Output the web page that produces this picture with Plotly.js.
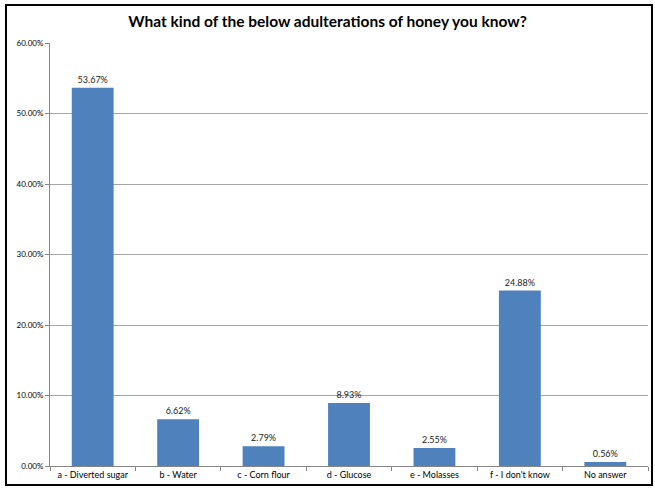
<!DOCTYPE html>
<html>
<head>
<meta charset="utf-8">
<script src="https://cdn.plot.ly/plotly-3.0.1.min.js"></script>
<style>
html,body{margin:0;padding:0;background:#fff;}
#wrap{position:relative;width:655px;height:489px;}
#chart{width:655px;height:489px;}
#frame{position:absolute;left:5px;top:4px;width:644px;height:478px;border:2px solid #000;pointer-events:none;}
</style>
</head>
<body>
<div id="wrap"><div id="chart"></div><div id="frame"></div></div>
<script>
const categories = ["a - Diverted sugar", "b - Water", "c - Corn flour", "d - Glucose", "e - Molasses", "f - I don't know", "No answer"];
const shares = [0.5367, 0.0662, 0.0279, 0.0893, 0.0255, 0.2488, 0.0056];
const yTickValues = [0, 0.1, 0.2, 0.3, 0.4, 0.5, 0.6];
const chartTitle = "What kind of the below adulterations of honey you know?";

const font = "Lato, 'Open Sans', 'Liberation Sans', sans-serif";

Plotly.newPlot("chart", [{
  type: "bar",
  x: categories,
  y: shares,
  marker: {color: "#4F81BD", line: {width: 0}},
  texttemplate: "%{y:.2%}",
  textposition: "outside",
  cliponaxis: false,
  textfont: {family: font, size: 9, color: "#222"},
  hoverinfo: "none"
}], {
  width: 655,
  height: 489,
  margin: {l: 50, r: 7, t: 43, b: 23, pad: 0},
  paper_bgcolor: "#fff",
  plot_bgcolor: "#fff",
  bargap: 0.51,
  showlegend: false,
  title: {text: "<b>" + chartTitle + "</b>", font: {family: font, size: 15.5, color: "#000"}, x: 0.5, xanchor: "center", y: 0.955, yanchor: "middle"},
  xaxis: {
    type: "category",
    showline: true, linecolor: "#868686", linewidth: 1,
    ticks: "outside", tickson: "boundaries", ticklen: 4, tickcolor: "#868686",
    tickfont: {family: font, size: 9, color: "#000"},
    showgrid: false, zeroline: false, fixedrange: true
  },
  yaxis: {
    range: [0, 0.6],
    tickvals: yTickValues,
    tickformat: ".2%",
    showline: true, linecolor: "#868686", linewidth: 1,
    ticks: "outside", ticklen: 4, tickcolor: "#868686",
    tickfont: {family: font, size: 8, color: "#000"},
    showgrid: true, gridcolor: "#a6a6a6", gridwidth: 1,
    zeroline: false, fixedrange: true
  }
}, {staticPlot: true});
</script>
</body>
</html>
